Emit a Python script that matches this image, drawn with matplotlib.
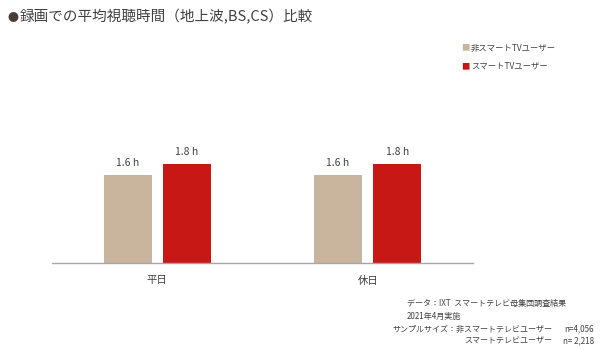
import matplotlib.pyplot as plt
import numpy as np

plt.rcParams['font.family'] = ['Noto Sans CJK JP', 'DejaVu Sans']

categories = ['平日', '休日']
series_names = ['非スマートTVユーザー', 'スマートTVユーザー']
non_smart = [1.6, 1.6]
smart = [1.8, 1.8]
colors = ['#C9B59E', '#C81816']

fig = plt.figure(figsize=(6, 3.5), dpi=100)
ax = fig.add_axes([0.0867, 0.2486, 0.7017, 0.4657])

x = np.arange(len(categories))
w = 0.228
off = 0.141
b1 = ax.bar(x - off, non_smart, w, color=colors[0])
b2 = ax.bar(x + off, smart, w, color=colors[1])

for bars, vals in [(b1, non_smart), (b2, smart)]:
    for bar, v in zip(bars, vals):
        ax.text(bar.get_x() + bar.get_width() / 2, v + 0.13, f'{v:.1f} h',
                ha='center', va='bottom', fontsize=7.5, color='#404040')

ax.set_xlim(-0.5, 1.5)
ax.set_ylim(0, 2.96)
ax.set_yticks([])
ax.set_xticks(x)
ax.set_xticklabels(categories, fontsize=7.5, color='#404040')
ax.tick_params(axis='x', length=0, pad=9)
for s in ['top', 'right', 'left']:
    ax.spines[s].set_visible(False)
ax.spines['bottom'].set_color('#A6A6A6')
ax.spines['bottom'].set_linewidth(1.0)

# title
fig.text(0.013, 0.950, '●', fontsize=8, color='#4B3A36', va='center', ha='left')
fig.text(0.033, 0.952, '録画での平均視聴時間（地上波,BS,CS）比較', fontsize=10.5,
         color='#404040', va='center', ha='left')

# legend
for i, name in enumerate(series_names):
    yy = 0.862 - i * 0.052
    fig.text(0.769, yy, '■', fontsize=6, color=colors[i], va='center', ha='left')
    fig.text(0.785, yy, name, fontsize=6, color='#404040', va='center', ha='left')

# source notes
kw = dict(fontsize=5.8, color='#404040', va='center')
fig.text(0.678, 0.134, 'データ：IXT  スマートテレビ母集団調査結果', ha='left', **kw)
fig.text(0.678, 0.097, '2021年4月実施', ha='left', **kw)
fig.text(0.920, 0.060, 'サンプルサイズ：非スマートテレビユーザー', ha='right', **kw)
fig.text(0.920, 0.025, 'スマートテレビユーザー', ha='right', **kw)
fig.text(0.990, 0.060, 'n=4,056', ha='right', **kw)
fig.text(0.990, 0.025, 'n= 2,218', ha='right', **kw)

fig.savefig('out.png', dpi=100)
